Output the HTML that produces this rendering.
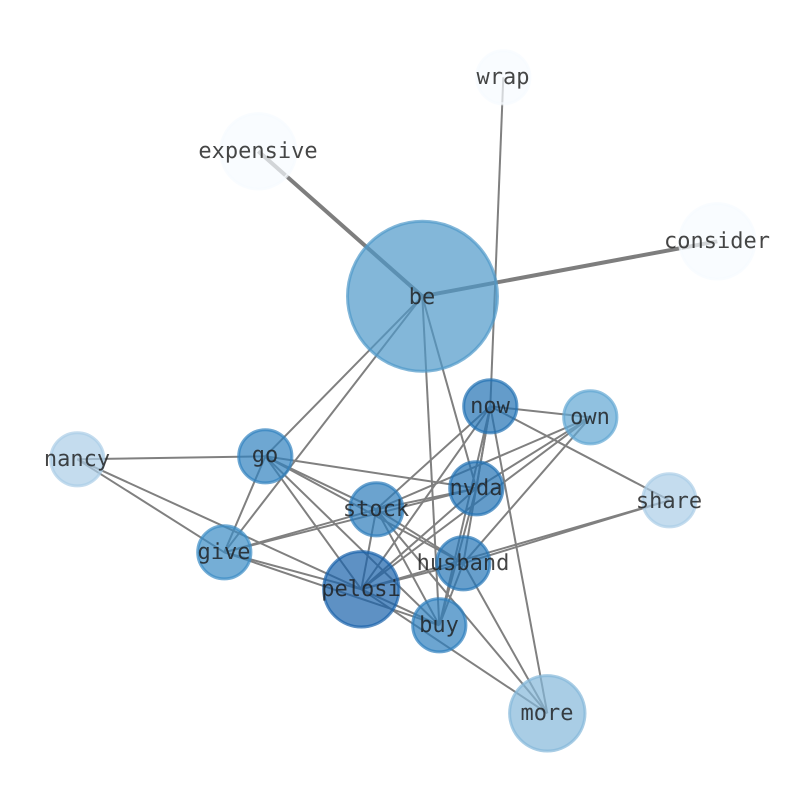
<!DOCTYPE html>
<html><head><meta charset="utf-8">
<style>
html,body{margin:0;padding:0;background:#fff}
svg{display:block}
text{font-family:"DejaVu Sans Mono",monospace;font-size:22px;text-anchor:middle;fill:#1c1c1c;fill-opacity:.82;text-rendering:geometricPrecision}
.e line{stroke:#808080;stroke-width:2}
.e2 line{stroke:#7e7e7e;stroke-width:4}
circle{stroke-width:3;fill-opacity:.7;stroke-opacity:.7}
</style></head><body>
<svg width="794" height="790" viewBox="0 0 794 790" xmlns="http://www.w3.org/2000/svg">
<g transform="translate(.3 .3)">
<g class="e2">
<line x1="422" y1="296" x2="258" y2="151"/>
<line x1="422" y1="296" x2="717" y2="241"/>
</g>
<g class="e">
<line x1="503" y1="77" x2="490" y2="406"/>
<line x1="422" y1="296" x2="265" y2="456"/>
<line x1="422" y1="296" x2="224" y2="552"/>
<line x1="422" y1="296" x2="476" y2="488"/>
<line x1="422" y1="296" x2="439" y2="625"/>
<line x1="490" y1="406" x2="590" y2="417"/>
<line x1="490" y1="406" x2="669" y2="500"/>
<line x1="490" y1="406" x2="476" y2="488"/>
<line x1="490" y1="406" x2="463" y2="563"/>
<line x1="490" y1="406" x2="439" y2="625"/>
<line x1="490" y1="406" x2="376" y2="509"/>
<line x1="490" y1="406" x2="361" y2="589"/>
<line x1="490" y1="406" x2="547" y2="713"/>
<line x1="590" y1="417" x2="376" y2="509"/>
<line x1="590" y1="417" x2="476" y2="488"/>
<line x1="590" y1="417" x2="361" y2="589"/>
<line x1="590" y1="417" x2="463" y2="563"/>
<line x1="476" y1="488" x2="265" y2="456"/>
<line x1="476" y1="488" x2="376" y2="509"/>
<line x1="476" y1="488" x2="224" y2="552"/>
<line x1="476" y1="488" x2="361" y2="589"/>
<line x1="476" y1="488" x2="439" y2="625"/>
<line x1="669" y1="500" x2="463" y2="563"/>
<line x1="669" y1="500" x2="361" y2="589"/>
<line x1="265" y1="456" x2="77" y2="459"/>
<line x1="265" y1="456" x2="224" y2="552"/>
<line x1="265" y1="456" x2="376" y2="509"/>
<line x1="265" y1="456" x2="463" y2="563"/>
<line x1="265" y1="456" x2="361" y2="589"/>
<line x1="265" y1="456" x2="439" y2="625"/>
<line x1="77" y1="459" x2="361" y2="589"/>
<line x1="77" y1="459" x2="224" y2="552"/>
<line x1="224" y1="552" x2="376" y2="509"/>
<line x1="224" y1="552" x2="361" y2="589"/>
<line x1="224" y1="552" x2="439" y2="625"/>
<line x1="376" y1="509" x2="361" y2="589"/>
<line x1="376" y1="509" x2="463" y2="563"/>
<line x1="376" y1="509" x2="439" y2="625"/>
<line x1="376" y1="509" x2="547" y2="713"/>
<line x1="463" y1="563" x2="439" y2="625"/>
<line x1="463" y1="563" x2="547" y2="713"/>
<line x1="463" y1="563" x2="361" y2="589"/>
<line x1="361" y1="589" x2="439" y2="625"/>
<line x1="361" y1="589" x2="547" y2="713"/>
</g>
<circle cx="422.2" cy="296" r="75" fill="#4f98c9" stroke="#4f98c9"/>
<circle cx="503" cy="77" r="26.6" fill="#f7fbff" stroke="#f7fbff"/>
<circle cx="258" cy="151" r="37.7" fill="#f7fbff" stroke="#f7fbff"/>
<circle cx="717" cy="241" r="37.7" fill="#f7fbff" stroke="#f7fbff"/>
<circle cx="490" cy="406" r="26.6" fill="#2272b4" stroke="#2272b4"/>
<circle cx="590" cy="417" r="26.6" fill="#61a6d3" stroke="#61a6d3"/>
<circle cx="476" cy="488" r="26.6" fill="#2272b4" stroke="#2272b4"/>
<circle cx="669" cy="500" r="26.6" fill="#abcde7" stroke="#abcde7"/>
<circle cx="265" cy="456" r="26.6" fill="#3082bf" stroke="#3082bf"/>
<circle cx="77" cy="459" r="26.6" fill="#abcde7" stroke="#abcde7"/>
<circle cx="376" cy="509" r="26.6" fill="#2c7cbb" stroke="#2c7cbb"/>
<circle cx="224" cy="552" r="26.6" fill="#3a8cc5" stroke="#3a8cc5"/>
<circle cx="463" cy="563" r="26.6" fill="#2676b7" stroke="#2676b7"/>
<circle cx="361" cy="589" r="37.7" fill="#1a62ab" stroke="#1a62ab"/>
<circle cx="439" cy="625" r="26.6" fill="#2e7fbd" stroke="#2e7fbd"/>
<circle cx="547" cy="713" r="37.7" fill="#84b8da" stroke="#84b8da"/>
</g>
<text x="422" y="304">be</text>
<text x="503" y="84">wrap</text>
<text x="258" y="158">expensive</text>
<text x="717" y="248">consider</text>
<text x="490" y="413">now</text>
<text x="590" y="424">own</text>
<text x="476" y="495">nvda</text>
<text x="669" y="508">share</text>
<text x="265" y="462">go</text>
<text x="77" y="466">nancy</text>
<text x="376" y="516">stock</text>
<text x="224" y="559">give</text>
<text x="463" y="570">husband</text>
<text x="361" y="596">pelosi</text>
<text x="439" y="632">buy</text>
<text x="547" y="720">more</text>
</svg>
</body></html>
